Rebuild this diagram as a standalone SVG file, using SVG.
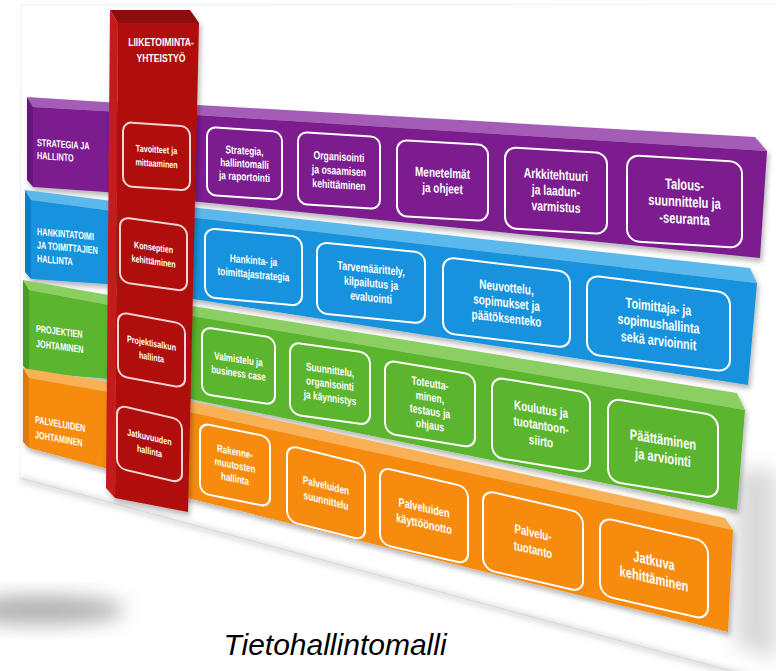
<svg xmlns="http://www.w3.org/2000/svg" width="776" height="671" viewBox="0 0 776 671">
<defs>
<style>
.t{fill:#ffffff;font-family:"Liberation Sans",Arial,sans-serif;font-weight:bold;text-anchor:middle}
.lt{fill:#ffffff;font-family:"Liberation Sans",Arial,sans-serif;font-weight:bold;font-size:10.4px}
.bx{fill:none;stroke:#fff;stroke-width:2}
.cbx{fill:none;stroke:#f6d2d2;stroke-width:2}
.pF{fill:#7b1f8e}.pT{fill:#a45cb6}.pS{fill:#66177a}
.bF{fill:#1593dc}.bT{fill:#5ab8ec}.bS{fill:#0e7cc0}
.gF{fill:#5cb52e}.gT{fill:#8bcf62}.gS{fill:#4a9c22}
.oF{fill:#f68b10}.oT{fill:#fab156}.oS{fill:#de7908}
</style>
<filter id="sh" x="-10%" y="-10%" width="125%" height="140%"><feDropShadow dx="2" dy="4" stdDeviation="2.5" flood-color="#000" flood-opacity="0.28"/></filter>
<filter id="bl" x="-50%" y="-50%" width="200%" height="200%"><feGaussianBlur stdDeviation="10"/></filter>
<filter id="bl2" x="-20%" y="-20%" width="140%" height="140%"><feGaussianBlur stdDeviation="3"/></filter>
</defs>
<rect width="776" height="671" fill="#fff"/>
<g id="page">
<ellipse cx="40" cy="610" rx="85" ry="14" fill="#9a9a9a" filter="url(#bl)" opacity="0.8"/>
<polygon points="736,470 776,470 776,660 736,645" fill="#aaa" filter="url(#bl)" opacity="0.45"/>
<line x1="20" y1="479" x2="776" y2="684" stroke="#bbb" stroke-width="3" filter="url(#bl2)"/>
<line x1="20" y1="478" x2="776" y2="683" stroke="#d8d8d8" stroke-width="1"/>
<line x1="20" y1="5" x2="776" y2="4" stroke="#eee" stroke-width="1"/>
<line x1="21" y1="5" x2="20" y2="478" stroke="#f0f0f0" stroke-width="1"/>
</g>

<g id="band-strategia">
<g filter="url(#sh)">
<polygon class="pT" points="180,104 755,137 767,151 180,114"/>
<polygon class="pF" points="180,114 767,151 760,258 180,200"/>
</g>
<g filter="url(#sh)">
<polygon class="pT" points="27,97 120,103 120,112 33,107"/>
<polygon class="pS" points="27,97 33,107 33,187 27,180"/>
<polygon class="pF" points="33,107 120,112 120,193 33,187"/>
</g>
<g transform="matrix(1,0.07,0,1,37,146)"><text class="lt" transform="scale(0.7,1)"><tspan x="0" y="0">STRATEGIA JA</tspan><tspan x="0" y="13">HALLINTO</tspan></text></g>
</g>

<g id="band-hankinta">
<g filter="url(#sh)">
<polygon class="bT" points="180,206 750,268 757,283 180,216"/>
<polygon class="bF" points="180,216 757,283 748,385 180,297"/>
</g>
<g filter="url(#sh)">
<polygon class="bT" points="25,190 120,202 120,212 31,200"/>
<polygon class="bS" points="25,190 31,200 31,279 25,272"/>
<polygon class="bF" points="31,200 120,212 120,285 31,279"/>
</g>
<g transform="matrix(1,0.09,0,1,37,235)"><text class="lt" transform="scale(0.7,1)"><tspan x="0" y="0">HANKINTATOIMI</tspan><tspan x="0" y="13.5">JA TOIMITTAJIEN</tspan><tspan x="0" y="27">HALLINTA</tspan></text></g>
</g>

<g id="band-projektit">
<g filter="url(#sh)">
<polygon class="gT" points="180,304 737,393 745,410 180,314"/>
<polygon class="gF" points="180,314 745,410 737,510 180,397"/>
</g>
<g filter="url(#sh)">
<polygon class="gT" points="23,280 120,297 120,307 29,290"/>
<polygon class="gS" points="23,280 29,290 29,372 23,366"/>
<polygon class="gF" points="29,290 120,307 120,380 29,372"/>
</g>
<g transform="matrix(1,0.13,0,1,36,332)"><text class="lt" transform="scale(0.7,1)"><tspan x="0" y="0">PROJEKTIEN</tspan><tspan x="0" y="15">JOHTAMINEN</tspan></text></g>
</g>

<g id="band-palvelut">
<g filter="url(#sh)">
<polygon class="oT" points="180,399 725,518 733,530 180,410"/>
<polygon class="oF" points="180,410 733,530 728,632 180,496"/>
</g>
<g filter="url(#sh)">
<polygon class="oT" points="23,368 120,384 120,394 29,378"/>
<polygon class="oS" points="23,368 29,378 29,448 23,442"/>
<polygon class="oF" points="29,378 120,394 120,472 29,448"/>
</g>
<g transform="matrix(1,0.18,0,1,35,423)"><text class="lt" transform="scale(0.7,1)"><tspan x="0" y="0">PALVELUIDEN</tspan><tspan x="0" y="15">JOHTAMINEN</tspan></text></g>
</g>

<g id="n-p1" transform="matrix(1,0.065,0,1,207,127)"><rect class="bx" width="75" height="68" rx="9"/><text class="t" font-size="11.3" transform="scale(0.74,1)"><tspan x="50.7" y="25.1">Strategia,</tspan><tspan x="50.7" dy="13">hallintomalli</tspan><tspan x="50.7" dy="13">ja raportointi</tspan></text></g>
<g id="n-p2" transform="matrix(1,0.06,0,1,298,132)"><rect class="bx" width="82" height="72" rx="9"/><text class="t" font-size="11.7" transform="scale(0.74,1)"><tspan x="55.4" y="26.2">Organisointi</tspan><tspan x="55.4" dy="14">ja osaamisen</tspan><tspan x="55.4" dy="14">kehittäminen</tspan></text></g>
<g id="n-p3" transform="matrix(1,0.055,0,1,397,140)"><rect class="bx" width="91" height="76" rx="10"/><text class="t" font-size="13.5" transform="scale(0.74,1)"><tspan x="61.5" y="35">Menetelmät</tspan><tspan x="61.5" dy="15.5">ja ohjeet</tspan></text></g>
<g id="n-p4" transform="matrix(1,0.06,0,1,505,147)"><rect class="bx" width="102" height="81" rx="11"/><text class="t" font-size="14" transform="scale(0.74,1)"><tspan x="68.9" y="29.5">Arkkitehtuuri</tspan><tspan x="68.9" dy="16">ja laadun-</tspan><tspan x="68.9" dy="16">varmistus</tspan></text></g>
<g id="n-p5" transform="matrix(1,0.06,0,1,627,155)"><rect class="bx" width="115" height="86" rx="12"/><text class="t" font-size="15.1" transform="scale(0.74,1)"><tspan x="77.7" y="31.4">Talous-</tspan><tspan x="77.7" dy="17">suunnittelu ja</tspan><tspan x="77.7" dy="17">-seuranta</tspan></text></g>

<g id="n-b1" transform="matrix(1,0.093,0,1,205,228)"><rect class="bx" width="97" height="69" rx="10"/><text class="t" font-size="11.3" transform="scale(0.74,1)"><tspan x="65.5" y="31.6">Hankinta- ja</tspan><tspan x="65.5" dy="14">toimittajastrategia</tspan></text></g>
<g id="n-b2" transform="matrix(1,0.1,0,1,317,242)"><rect class="bx" width="108" height="71" rx="10"/><text class="t" font-size="12.1" transform="scale(0.74,1)"><tspan x="73" y="25.3">Tarvemäärittely,</tspan><tspan x="73" dy="14.5">kilpailutus ja</tspan><tspan x="73" dy="14.5">evaluointi</tspan></text></g>
<g id="n-b3" transform="matrix(1,0.118,0,1,443,257)"><rect class="bx" width="127" height="76" rx="11"/><text class="t" font-size="13.5" transform="scale(0.74,1)"><tspan x="85.8" y="27.3">Neuvottelu,</tspan><tspan x="85.8" dy="15.5">sopimukset ja</tspan><tspan x="85.8" dy="15.5">päätöksenteko</tspan></text></g>
<g id="n-b4" transform="matrix(1,0.125,0,1,587,275)"><rect class="bx" width="143" height="79" rx="12"/><text class="t" font-size="14.6" transform="scale(0.74,1)"><tspan x="96.6" y="27.8">Toimittaja- ja</tspan><tspan x="96.6" dy="17">sopimushallinta</tspan><tspan x="96.6" dy="17">sekä arvioinnit</tspan></text></g>

<g id="n-g1" transform="matrix(1,0.15,0,1,202,327)"><rect class="bx" width="73" height="67" rx="9"/><text class="t" font-size="10.8" transform="scale(0.74,1)"><tspan x="49.3" y="30.4">Valmistelu ja</tspan><tspan x="49.3" dy="14">business case</tspan></text></g>
<g id="n-g2" transform="matrix(1,0.14,0,1,290,342)"><rect class="bx" width="80" height="72" rx="10"/><text class="t" font-size="11.3" transform="scale(0.74,1)"><tspan x="54.1" y="26.1">Suunnittelu,</tspan><tspan x="54.1" dy="14">organisointi</tspan><tspan x="54.1" dy="14">ja käynnistys</tspan></text></g>
<g id="n-g3" transform="matrix(1,0.165,0,1,385,360)"><rect class="bx" width="90" height="73" rx="10"/><text class="t" font-size="11.9" transform="scale(0.74,1)"><tspan x="60.8" y="19.8">Toteutta-</tspan><tspan x="60.8" dy="14">minen,</tspan><tspan x="60.8" dy="14">testaus ja</tspan><tspan x="60.8" dy="14">ohjaus</tspan></text></g>
<g id="n-g4" transform="matrix(1,0.163,0,1,492,377)"><rect class="bx" width="98" height="80" rx="11"/><text class="t" font-size="13.4" transform="scale(0.74,1)"><tspan x="66.2" y="28.8">Koulutus ja</tspan><tspan x="66.2" dy="16">tuotantoon-</tspan><tspan x="66.2" dy="16">siirto</tspan></text></g>
<g id="n-g5" transform="matrix(1,0.16,0,1,608,398)"><rect class="bx" width="110" height="83" rx="12"/><text class="t" font-size="15.1" transform="scale(0.74,1)"><tspan x="74.3" y="37.9">Päättäminen</tspan><tspan x="74.3" dy="18">ja arviointi</tspan></text></g>

<g id="n-o1" transform="matrix(1,0.2,0,1,200,423)"><rect class="bx" width="70" height="70" rx="9"/><text class="t" font-size="10.8" transform="scale(0.74,1)"><tspan x="47.3" y="25.4">Rakenne-</tspan><tspan x="47.3" dy="13.5">muutosten</tspan><tspan x="47.3" dy="13.5">hallinta</tspan></text></g>
<g id="n-o2" transform="matrix(1,0.25,0,1,287,445)"><rect class="bx" width="78" height="76" rx="10"/><text class="t" font-size="11.3" transform="scale(0.74,1)"><tspan x="52.7" y="34.6">Palveluiden</tspan><tspan x="52.7" dy="15">suunnittelu</tspan></text></g>
<g id="n-o3" transform="matrix(1,0.23,0,1,380,467)"><rect class="bx" width="88" height="77" rx="10"/><text class="t" font-size="12.4" transform="scale(0.74,1)"><tspan x="59.5" y="34.9">Palveluiden</tspan><tspan x="59.5" dy="16">käyttöönotto</tspan></text></g>
<g id="n-o4" transform="matrix(1,0.23,0,1,483,490)"><rect class="bx" width="100" height="79" rx="11"/><text class="t" font-size="13" transform="scale(0.74,1)"><tspan x="67.6" y="35.6">Palvelu-</tspan><tspan x="67.6" dy="17">tuotanto</tspan></text></g>
<g id="n-o5" transform="matrix(1,0.23,0,1,600,517)"><rect class="bx" width="108" height="78" rx="12"/><text class="t" font-size="15.1" transform="scale(0.74,1)"><tspan x="73" y="36.4">Jatkuva</tspan><tspan x="73" dy="18">kehittäminen</tspan></text></g>

<g id="column-liiketoiminta">
<g filter="url(#sh)">
<polygon fill="#8c0909" points="110,10 190,10 199,23 118,23"/>
<polygon fill="#c41d1d" points="110,10 118,23 115,498 106,488"/>
<polygon fill="#b00c0c" points="118,23 199,23 188,512 115,498"/>
</g>
<text class="t" font-size="11.8" transform="translate(161,0) scale(0.73,1)"><tspan x="0" y="46">LIIKETOIMINTA-</tspan><tspan x="0" y="62">YHTEISTYÖ</tspan></text>
</g>
<g id="n-c1" transform="matrix(1,0.07,0,1,123,122)"><rect class="cbx" width="67" height="64" rx="9"/><text class="t" font-size="9.7" transform="scale(0.74,1)"><tspan x="45.3" y="28.5">Tavoitteet ja</tspan><tspan x="45.3" dy="14">mittaaminen</tspan></text></g>
<g id="n-c2" transform="matrix(1,0.14,0,1,120,217)"><rect class="cbx" width="67" height="65" rx="9"/><text class="t" font-size="9.7" transform="scale(0.74,1)"><tspan x="45.3" y="29">Konseptien</tspan><tspan x="45.3" dy="14">kehittäminen</tspan></text></g>
<g id="n-c3" transform="matrix(1,0.18,0,1,118,312)"><rect class="cbx" width="67" height="64" rx="9"/><text class="t" font-size="9.7" transform="scale(0.74,1)"><tspan x="45.3" y="28.5">Projektisalkun</tspan><tspan x="45.3" dy="14">hallinta</tspan></text></g>
<g id="n-c4" transform="matrix(1,0.23,0,1,117,405)"><rect class="cbx" width="65" height="63" rx="9"/><text class="t" font-size="9.7" transform="scale(0.74,1)"><tspan x="43.9" y="28">Jatkuvuuden</tspan><tspan x="43.9" dy="14">hallinta</tspan></text></g>

<g id="connectors"/>

<text id="title" x="335" y="655" font-family="'Liberation Sans',Arial,sans-serif" font-style="italic" font-size="30" text-anchor="middle" fill="#000">Tietohallintomalli</text>
</svg>
